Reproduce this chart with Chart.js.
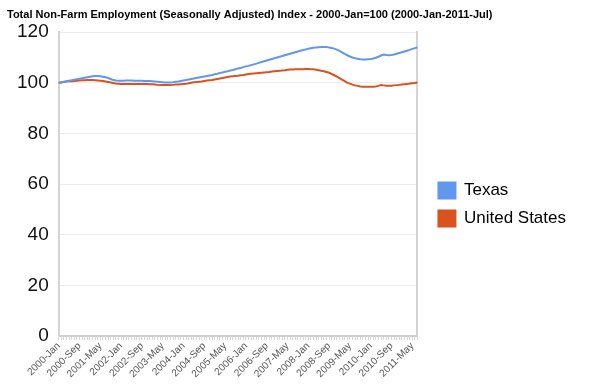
<!DOCTYPE html>
<html>
<head>
<meta charset="utf-8">
<script src="https://cdn.jsdelivr.net/npm/chart.js@4"></script>
<style>
  html, body { margin: 0; padding: 0; background: #fff; }
  #wrap { width: 595px; height: 384px; }
</style>
</head>
<body>
<div id="wrap"><canvas id="c" width="595" height="384"></canvas></div>
<script>
const TITLE = 'Total Non-Farm Employment (Seasonally Adjusted) Index - 2000-Jan=100 (2000-Jan-2011-Jul)';
const MONTHS = ['Jan','Feb','Mar','Apr','May','Jun','Jul','Aug','Sep','Oct','Nov','Dec'];
const FIRST_YEAR = 2000, N_MONTHS = 139;   // 2000-Jan .. 2011-Jul
const LABEL_EVERY = 8;
const Y_TICKS = [0, 20, 40, 60, 80, 100, 120];

// index values, one per month
const texas = [
  100.0, 100.2, 100.4, 100.6, 100.8, 101.0, 101.2, 101.4, 101.6, 101.8, 102.0, 102.2,
  102.4, 102.6, 102.7, 102.7, 102.6, 102.4, 102.2, 101.9, 101.5, 101.1, 100.9, 100.8,
  100.8, 100.8, 100.9, 100.9, 100.9, 100.8, 100.8, 100.8, 100.8, 100.7, 100.7, 100.7,
  100.6, 100.5, 100.4, 100.3, 100.2, 100.1, 100.1, 100.1, 100.2, 100.4, 100.5, 100.7,
  100.9, 101.1, 101.3, 101.5, 101.7, 101.9, 102.1, 102.3, 102.5, 102.7, 102.9, 103.1,
  103.4, 103.6, 103.9, 104.1, 104.4, 104.6, 104.9, 105.1, 105.4, 105.7, 105.9, 106.2,
  106.5, 106.7, 107.0, 107.3, 107.6, 107.9, 108.2, 108.5, 108.8, 109.1, 109.4, 109.7,
  110.0, 110.3, 110.6, 110.9, 111.2, 111.5, 111.8, 112.1, 112.4, 112.7, 113.0, 113.2,
  113.5, 113.7, 113.9, 114.0, 114.1, 114.2, 114.2, 114.2, 114.0, 113.8, 113.5, 113.1,
  112.6, 112.0, 111.4, 110.9, 110.4, 110.0, 109.7, 109.5, 109.3, 109.2, 109.2, 109.3,
  109.4, 109.6, 109.9, 110.3, 110.8, 111.2, 111.0, 110.9, 111.0, 111.2, 111.5, 111.8,
  112.1, 112.4, 112.7, 113.0, 113.4, 113.7, 114.0
];
const unitedStates = [
  100.0, 100.1, 100.3, 100.5, 100.6, 100.6, 100.7, 100.8, 100.9, 101.0, 101.0, 101.1,
  101.1, 101.1, 101.0, 100.9, 100.8, 100.7, 100.5, 100.3, 100.1, 99.9, 99.7, 99.6,
  99.5, 99.5, 99.5, 99.5, 99.5, 99.5, 99.5, 99.5, 99.5, 99.5, 99.5, 99.4,
  99.4, 99.3, 99.2, 99.1, 99.1, 99.1, 99.1, 99.1, 99.2, 99.3, 99.3, 99.4,
  99.5, 99.6, 99.8, 100.0, 100.2, 100.3, 100.4, 100.5, 100.7, 100.9, 101.0, 101.1,
  101.3, 101.5, 101.7, 101.9, 102.1, 102.3, 102.5, 102.6, 102.7, 102.8, 103.0, 103.1,
  103.3, 103.5, 103.6, 103.7, 103.8, 103.9, 104.0, 104.1, 104.2, 104.3, 104.5, 104.6,
  104.7, 104.8, 104.9, 105.0, 105.2, 105.3, 105.3, 105.4, 105.4, 105.4, 105.4, 105.5,
  105.5, 105.4, 105.4, 105.2, 105.0, 104.8, 104.6, 104.3, 104.0, 103.5, 103.0, 102.5,
  101.9, 101.3, 100.7, 100.1, 99.7, 99.3, 99.0, 98.8, 98.6, 98.5, 98.5, 98.5,
  98.5, 98.5, 98.6, 98.8, 99.1, 99.0, 98.9, 98.9, 98.9, 99.0, 99.1, 99.2,
  99.3, 99.4, 99.5, 99.7, 99.8, 99.9, 100.1
];

const labels = [];
for (let i = 0; i < N_MONTHS; i++) labels.push((FIRST_YEAR + Math.floor(i / 12)) + '-' + MONTHS[i % 12]);

const BLUE = '#6197ee', RED = '#d8531f';
const FONT = '"Liberation Sans", Arial, sans-serif';

new Chart(document.getElementById('c'), {
  type: 'line',
  data: {
    labels,
    datasets: [
      {label: 'Texas', data: texas, borderColor: BLUE, backgroundColor: BLUE, borderWidth: 2, pointRadius: 0, tension: 0},
      {label: 'United States', data: unitedStates, borderColor: RED, backgroundColor: RED, borderWidth: 2, pointRadius: 0, tension: 0},
    ]
  },
  options: {
    responsive: false, animation: false,
    layout: {padding: {left: 7, right: 19, bottom: 4}},
    plugins: {
      title: {display: true, text: TITLE, align: 'start', color: '#000',
        font: {family: FONT, size: 11, weight: 'bold'}, padding: {top: 8, bottom: 11}},
      legend: {position: 'right', align: 'center', maxWidth: 170,
        // empty title only pushes the two entries down a little
        title: {display: true, text: ' ', font: {size: 1}, padding: 14},
        labels: {boxWidth: 17, boxHeight: 16, padding: 11, color: '#000', font: {family: FONT, size: 17}}},
      tooltip: {enabled: false}
    },
    scales: {
      x: {
        ticks: {autoSkip: false, maxRotation: 45, minRotation: 45, color: '#555', padding: 0,
          font: {family: FONT, size: 10},
          callback: (v, i) => i % LABEL_EVERY === 0 ? labels[i] : ''},
        grid: {drawOnChartArea: false, tickLength: 4, color: '#d8d8d8'},
        border: {color: '#cfcfcf', width: 2}
      },
      y: {
        min: Y_TICKS[0], max: Y_TICKS[Y_TICKS.length - 1],
        afterBuildTicks: s => { s.ticks = Y_TICKS.map(v => ({value: v})); },
        ticks: {color: '#111', padding: 10, font: {family: FONT, size: 19}},
        grid: {color: '#ececec', tickLength: 0},
        border: {color: '#d4d4d4', width: 2}
      },
      y2: {
        position: 'right', min: 0, max: 120,
        ticks: {display: false},
        grid: {display: false},
        border: {color: '#d4d4d4', width: 2},
        afterFit: s => { s.width = 10; }
      }
    }
  }
});
</script>
</body>
</html>
